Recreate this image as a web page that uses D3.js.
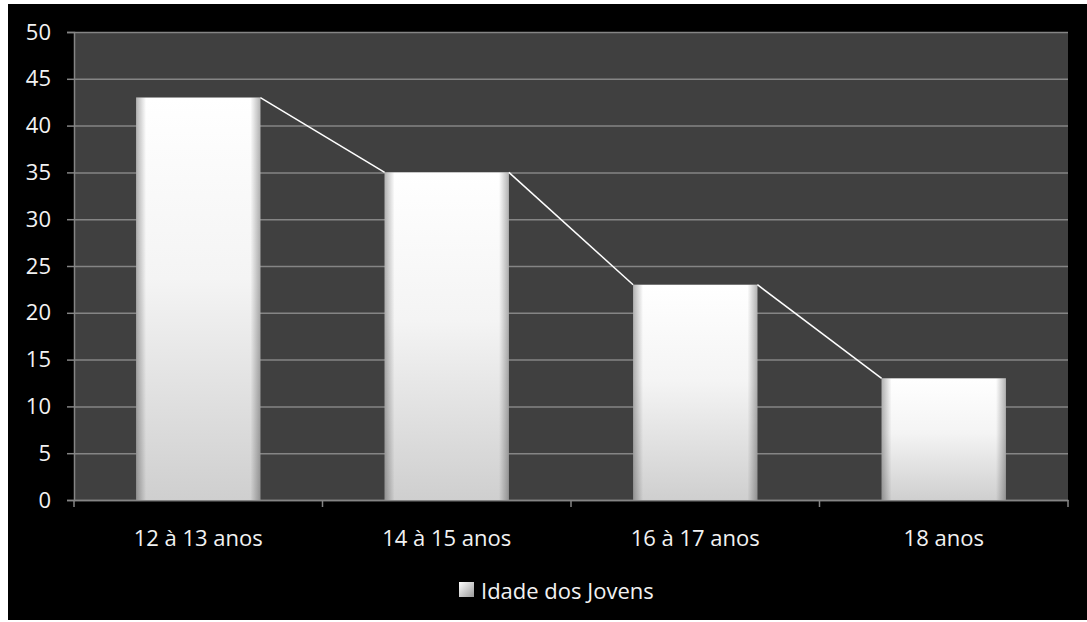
<!DOCTYPE html>
<html><head><meta charset="utf-8">
<script src="https://cdn.jsdelivr.net/npm/d3@7"></script>
<style>
html,body{margin:0;padding:0;background:#fff;}
svg{display:block;}
text{font-family:"Open Sans",sans-serif;fill:#f2f2f2;}
</style></head><body>
<svg id="c" width="1087" height="622"></svg>
<script>
const categories = ["12 à 13 anos","14 à 15 anos","16 à 17 anos","18 anos"];
const values = [43, 35, 23, 13];
const yTicks = [0,5,10,15,20,25,30,35,40,45,50];
const seriesName = "Idade dos Jovens";

(function(){
const svg = d3.select("#c");
svg.append("rect").attr("x",8).attr("y",4).attr("width",1079).attr("height",616).attr("fill","#000");

const mL = 74, mR = 1068, mT = 32, mB = 500;
const x = d3.scaleBand().domain(categories).range([mL,mR]).paddingInner(0.5).paddingOuter(0.25);
const xb = d3.scaleBand().domain(categories).range([mL,mR]);
const y = d3.scaleLinear().domain([0,50]).range([mB,mT]);

svg.append("rect").attr("x",mL).attr("y",mT).attr("width",mR-mL).attr("height",mB-mT).attr("fill","#404040");

const defs = svg.append("defs");
const gv = defs.append("linearGradient").attr("id","gv").attr("x1",0).attr("y1",0).attr("x2",0).attr("y2",1);
gv.append("stop").attr("offset","0%").attr("stop-color","#ffffff");
gv.append("stop").attr("offset","45%").attr("stop-color","#f4f4f4");
gv.append("stop").attr("offset","100%").attr("stop-color","#cfcfcf");
const gh = defs.append("linearGradient").attr("id","gh").attr("x1",0).attr("y1",0).attr("x2",1).attr("y2",0);
gh.append("stop").attr("offset","0%").attr("stop-color","#000").attr("stop-opacity",0.3);
gh.append("stop").attr("offset","8%").attr("stop-color","#000").attr("stop-opacity",0);
gh.append("stop").attr("offset","92%").attr("stop-color","#000").attr("stop-opacity",0);
gh.append("stop").attr("offset","100%").attr("stop-color","#000").attr("stop-opacity",0.3);
const gl = defs.append("linearGradient").attr("id","gl").attr("x1",0).attr("y1",0).attr("x2",1).attr("y2",1);
gl.append("stop").attr("offset","0%").attr("stop-color","#ffffff");
gl.append("stop").attr("offset","100%").attr("stop-color","#9a9a9a");

svg.append("g").selectAll("line").data(yTicks).join("line")
  .attr("x1",mL).attr("x2",mR).attr("y1",d=>y(d)+0.5).attr("y2",d=>y(d)+0.5)
  .attr("stroke","#858585").attr("stroke-width",1.5);

const ya = svg.append("g").attr("transform",`translate(${mL},0)`)
  .call(d3.axisLeft(y).tickValues(yTicks).tickSize(7).tickPadding(16));
ya.select(".domain").attr("stroke","#858585").attr("stroke-width",1.5);
ya.selectAll(".tick line").attr("stroke","#858585").attr("stroke-width",1.5);
ya.selectAll("text").attr("fill","#f2f2f2").attr("font-size",22).attr("font-family","Open Sans");

const xa = svg.append("g").attr("transform",`translate(0,${mB})`)
  .call(d3.axisBottom(xb).tickSize(0).tickPadding(30));
xa.select(".domain").attr("stroke","#858585").attr("stroke-width",1.5);
xa.selectAll("text").attr("fill","#f2f2f2").attr("font-size",22).attr("font-family","Open Sans");
const bounds = categories.map(c=>xb(c)).concat([mR]);
svg.append("g").selectAll("line").data(bounds).join("line")
  .attr("x1",d=>d).attr("x2",d=>d).attr("y1",mB).attr("y2",mB+7)
  .attr("stroke","#858585").attr("stroke-width",1.5);

const bars = svg.append("g");
categories.forEach((c,i)=>{
  bars.append("rect").attr("x",x(c)).attr("y",y(values[i])).attr("width",x.bandwidth()).attr("height",y(0)-y(values[i]))
    .attr("fill","url(#gv)");
  bars.append("rect").attr("x",x(c)).attr("y",y(values[i])).attr("width",x.bandwidth()).attr("height",y(0)-y(values[i]))
    .attr("fill","url(#gh)");
});

const segs = d3.range(categories.length-1).map(i=>[
  [x(categories[i])+x.bandwidth(), y(values[i])],
  [x(categories[i+1]), y(values[i+1])]
]);
svg.append("g").selectAll("line").data(segs).join("line")
  .attr("x1",d=>d[0][0]).attr("y1",d=>d[0][1]).attr("x2",d=>d[1][0]).attr("y2",d=>d[1][1])
  .attr("stroke","#ffffff").attr("stroke-width",1.5);

const lg = svg.append("g");
lg.append("rect").attr("x",459).attr("y",582).attr("width",15).attr("height",15).attr("fill","url(#gl)");
lg.append("text").attr("x",481).attr("y",599).attr("font-size",22).text(seriesName);
})();
</script>
</body></html>
